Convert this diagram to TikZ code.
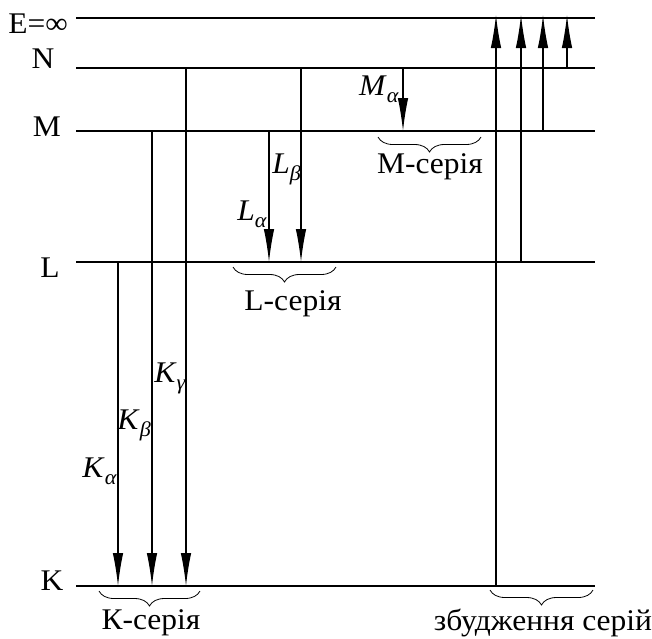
\documentclass[tikz,border=0pt]{standalone}
\usepackage{fontspec}
\setmainfont{Liberation Serif}[FakeStretch=1.05]
\usetikzlibrary{arrows.meta, decorations.pathreplacing}

\newcommand{\sublbl}[2]{\textit{#1}\raisebox{-7pt}{\fontsize{21}{21}\selectfont\textit{#2}}}

\begin{document}
\begin{tikzpicture}[
  x=1pt, y=-1pt,
  font=\fontsize{30}{32}\selectfont,
  level/.style={line width=2pt},
  trans/.style={line width=1.2pt, -{Latex[length=33pt, width=10.5pt]}},
  series/.style={decorate, decoration={brace, mirror, amplitude=15pt},
                 line width=0.8pt},
  lbl/.style={inner sep=0pt, anchor=base}]
\useasboundingbox (0,0) rectangle (652,638);

% energy levels
\foreach \name/\y/\txt/\lx/\ly in {E/18/E=∞/38/33, N/68/N/43/68,
    M/131/M/47/136, L/262/L/50/277, K/586/K/52/590} {
  \coordinate (\name) at (76,\y);
  \coordinate (\name r) at (595,\y);
  \draw[level] (\name) -- (\name r);
  \node[lbl] (\name lbl) at (\lx,\ly) {\txt};
}

% columns of the transitions
\foreach \col/\x in {ka/118, kb/152, kg/186, la/269, lb/301, ma/403,
    ex1/496, ex2/521, ex3/543, ex4/567}
  \coordinate (\col) at (\x,0);

% emission
\draw[trans] (ka |- L) -- (ka |- K);
\draw[trans] (kb |- M) -- (kb |- K);
\draw[trans] (kg |- N) -- (kg |- K);
\draw[trans] (la |- M) -- (la |- L);
\draw[trans] (lb |- N) -- (lb |- L);
\draw[trans] (ma |- N) -- (ma |- M);

% excitation
\draw[trans, shorten >=-3pt] (ex1 |- K) -- (ex1 |- E);
\draw[trans, shorten >=-3pt] (ex2 |- L) -- (ex2 |- E);
\draw[trans, shorten >=-3pt] (ex3 |- M) -- (ex3 |- E);
\draw[trans, shorten >=-3pt] (ex4 |- N) -- (ex4 |- E);

\node[lbl, anchor=base east] (kalbl) at (117,477) {\sublbl{K}{α}};
\node[lbl, anchor=base east] (kblbl) at (151,429) {\sublbl{K}{β}};
\node[lbl, anchor=base east] (kglbl) at (186,382) {\sublbl{K}{γ}};
\node[lbl, anchor=base east] (lalbl) at (267,220) {\sublbl{L}{α}};
\node[lbl, anchor=base east] (lblbl) at (301,173) {\sublbl{L}{β}};
\node[lbl, anchor=base east] (malbl) at (399,95) {\sublbl{M}{α}};

% series
\draw[series] (99,591) -- (200,591);
\draw[series] (233,267) -- (336,267);
\draw[series] (378,137) -- (481,137);
\draw[series] (490,590) -- (593,590);
\node[lbl] (kser) at (151,629) {К-серія};
\node[lbl] (lser) at (293,310) {L-серія};
\node[lbl] (mser) at (430,173) {M-серія};
\node[lbl] (exser) at (543,630) {збудження серій};
\end{tikzpicture}
\end{document}
